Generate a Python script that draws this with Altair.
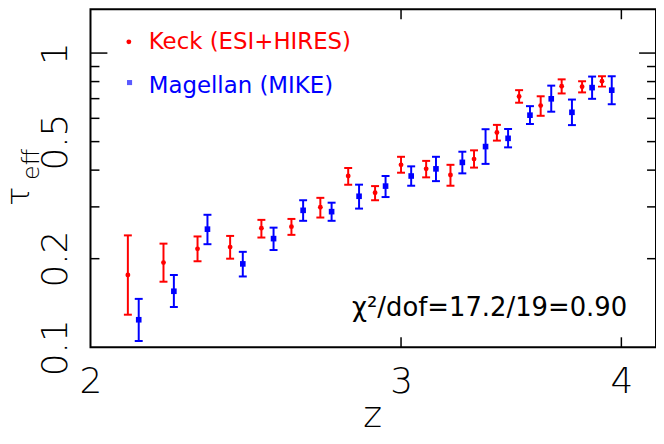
import altair as alt
import pandas as pd

# ---- data ----
KECK_Z = [2.1, 2.2, 2.3, 2.4, 2.5, 2.6, 2.7, 2.8, 2.9, 3.0,
          3.1, 3.2, 3.3, 3.4, 3.5, 3.6, 3.7, 3.8, 3.9]
KECK_TAU = [0.176, 0.194, 0.216, 0.219, 0.254, 0.257, 0.299, 0.382, 0.335, 0.417,
            0.404, 0.385, 0.436, 0.537, 0.712, 0.663, 0.771, 0.769, 0.802]
KECK_HI = [0.240, 0.225, 0.238, 0.239, 0.271, 0.273, 0.322, 0.407, 0.353, 0.444,
           0.430, 0.417, 0.467, 0.570, 0.748, 0.713, 0.814, 0.802, 0.834]
KECK_LO = [0.129, 0.167, 0.196, 0.200, 0.236, 0.241, 0.276, 0.357, 0.316, 0.392,
           0.378, 0.354, 0.408, 0.504, 0.678, 0.612, 0.729, 0.735, 0.769]

MAG_Z = [2.13, 2.23, 2.33, 2.44, 2.54, 2.64, 2.74, 2.84, 2.94, 3.04,
         3.14, 3.25, 3.35, 3.45, 3.55, 3.65, 3.75, 3.85, 3.95]
MAG_TAU = [0.124, 0.155, 0.252, 0.192, 0.234, 0.292, 0.289, 0.326, 0.353, 0.382,
           0.404, 0.425, 0.481, 0.513, 0.615, 0.699, 0.629, 0.763, 0.748]
MAG_HI = [0.146, 0.176, 0.282, 0.211, 0.255, 0.316, 0.310, 0.357, 0.382, 0.412,
          0.444, 0.462, 0.551, 0.552, 0.660, 0.775, 0.695, 0.832, 0.834]
MAG_LO = [0.105, 0.137, 0.224, 0.174, 0.214, 0.269, 0.269, 0.296, 0.324, 0.354,
          0.367, 0.390, 0.420, 0.478, 0.574, 0.632, 0.569, 0.699, 0.670]

SERIES = ["Keck (ESI+HIRES)", "Magellan (MIKE)"]
COLORS = ["#ff0000", "#0000ff"]

X_TICKS = [2, 3, 4]
X_INNER_TICKS = [3, 4]
Y_LABELS = [0.1, 0.2, 0.5, 1]
Y_MAJOR_TICKS = [1.0]
Y_MINOR_TICKS = [0.9, 0.8, 0.7, 0.6, 0.5, 0.4, 0.3, 0.2]

FIT_TEXT = "χ²/dof=17.2/19=0.90"

W, H = 569, 340
FONT = "DejaVu Sans"

rows = []
for z, t, lo, hi in zip(KECK_Z, KECK_TAU, KECK_LO, KECK_HI):
    rows.append({"series": SERIES[0], "z": z, "tau": t, "lo": lo, "hi": hi})
for z, t, lo, hi in zip(MAG_Z, MAG_TAU, MAG_LO, MAG_HI):
    rows.append({"series": SERIES[1], "z": z, "tau": t, "lo": lo, "hi": hi})
df = pd.DataFrame(rows)

xs = alt.Scale(type="log", domain=[2, 4.185], nice=False, zero=False)
ys = alt.Scale(type="log", domain=[0.1, 1.4084], nice=False, zero=False)
cs = alt.Scale(domain=SERIES, range=COLORS)

x_axis = alt.Axis(values=X_TICKS, format="~g", ticks=False, domain=False, grid=False,
                  labelFont=FONT, labelFontWeight=200, labelFontSize=36,
                  labelColor="black", labelPadding=18, labelBaseline="top",
                  labelAlign="center", labelFlush=False, labelOverlap=False, title=None)
y_axis = alt.Axis(values=Y_LABELS, format="~g", ticks=False, domain=False, grid=False,
                  labelFont=FONT, labelFontWeight=200, labelFontSize=36,
                  labelColor="black", labelPadding=24, labelAngle=270,
                  labelAlign="center", labelBaseline="alphabetic",
                  labelFlush=False, labelOverlap=False, title=None)


def X(field):
    return alt.X(field, scale=xs, axis=x_axis)


def Y(field):
    return alt.Y(field, scale=ys, axis=y_axis)


COL = alt.Color("series:N", scale=cs, legend=None)

base = alt.Chart(df)

# invisible layer that carries the axes
axes_layer = base.mark_point(opacity=0).encode(x=X("z:Q"), y=Y("tau:Q"))

err = base.mark_rule(strokeWidth=2).encode(
    x=X("z:Q"), y=Y("lo:Q"), y2="hi:Q", color=COL)

caps = base.transform_fold(["lo", "hi"], as_=["k", "v"]).mark_tick(
    orient="horizontal", thickness=2, size=8, opacity=1
).encode(x=X("z:Q"), y=Y("v:Q"), color=COL)

keck_pts = base.transform_filter(alt.datum.series == SERIES[0]).mark_point(
    shape="circle", filled=True, size=24, opacity=1
).encode(x=X("z:Q"), y=Y("tau:Q"), color=COL)

mag_pts = base.transform_filter(alt.datum.series == SERIES[1]).mark_point(
    shape="square", filled=True, size=32, opacity=1
).encode(x=X("z:Q"), y=Y("tau:Q"), color=COL)

# inward ticks on all four sides
ymaj = pd.DataFrame({"t": Y_MAJOR_TICKS})
ymin = pd.DataFrame({"t": Y_MINOR_TICKS})
xin = pd.DataFrame({"t": X_INNER_TICKS})


def yrule(d, x1, x2):
    return alt.Chart(d).mark_rule(color="black", strokeWidth=1.5).encode(
        y=Y("t:Q"), x=alt.value(x1), x2=alt.value(x2))


def xrule(d, y1, y2):
    return alt.Chart(d).mark_rule(color="black", strokeWidth=1.5).encode(
        x=X("t:Q"), y=alt.value(y1), y2=alt.value(y2))


tick_layers = [
    yrule(ymaj, 0, 17), yrule(ymaj, W, W - 17),
    yrule(ymin, 0, 9), yrule(ymin, W, W - 9),
    xrule(xin, H, H - 10), xrule(xin, 0, 10),
]


def txt(s, x, y, size, color="black", align="left", angle=0, baseline="alphabetic", weight=400):
    return alt.Chart(pd.DataFrame({"t": [s]})).mark_text(
        font=FONT, fontSize=size, color=color, align=align, angle=angle,
        baseline=baseline, fontWeight=weight
    ).encode(text="t:N", x=alt.value(x), y=alt.value(y))


legend_layers = [
    alt.Chart(pd.DataFrame({"t": [SERIES[0]]})).mark_point(
        shape="circle", filled=True, size=24, color=COLORS[0], opacity=1
    ).encode(x=alt.value(38.6), y=alt.value(32.7)),
    alt.Chart(pd.DataFrame({"t": [SERIES[1]]})).mark_point(
        shape="square", filled=True, size=26, color="#5a5aff", opacity=1
    ).encode(x=alt.value(39.3), y=alt.value(73.7)),
    txt(SERIES[0], 58.6, 40.3, 23, COLORS[0]),
    txt(SERIES[1], 58.6, 83.7, 23, COLORS[1]),
]

text_layers = [
    txt(FIT_TEXT, 540, 309, 26, "black", align="right"),
    txt("z", 284, 420, 36, "black", align="center", weight=200),
    txt("τ", -62, 188, 32, "black", align="center", angle=270, weight=200),
    txt("eff", -52, 156, 24, "black", align="center", angle=270, weight=200),
]

chart = alt.layer(
    axes_layer, err, caps, keck_pts, mag_pts, *tick_layers, *legend_layers, *text_layers
).properties(
    width=W, height=H,
    padding={"left": 83, "top": 0, "right": 0, "bottom": 90},
    autosize=alt.AutoSizeParams(type="none"),
).configure_view(stroke="black", strokeWidth=2)

chart.save("out.html", embed_options={"renderer": "svg", "actions": False})
